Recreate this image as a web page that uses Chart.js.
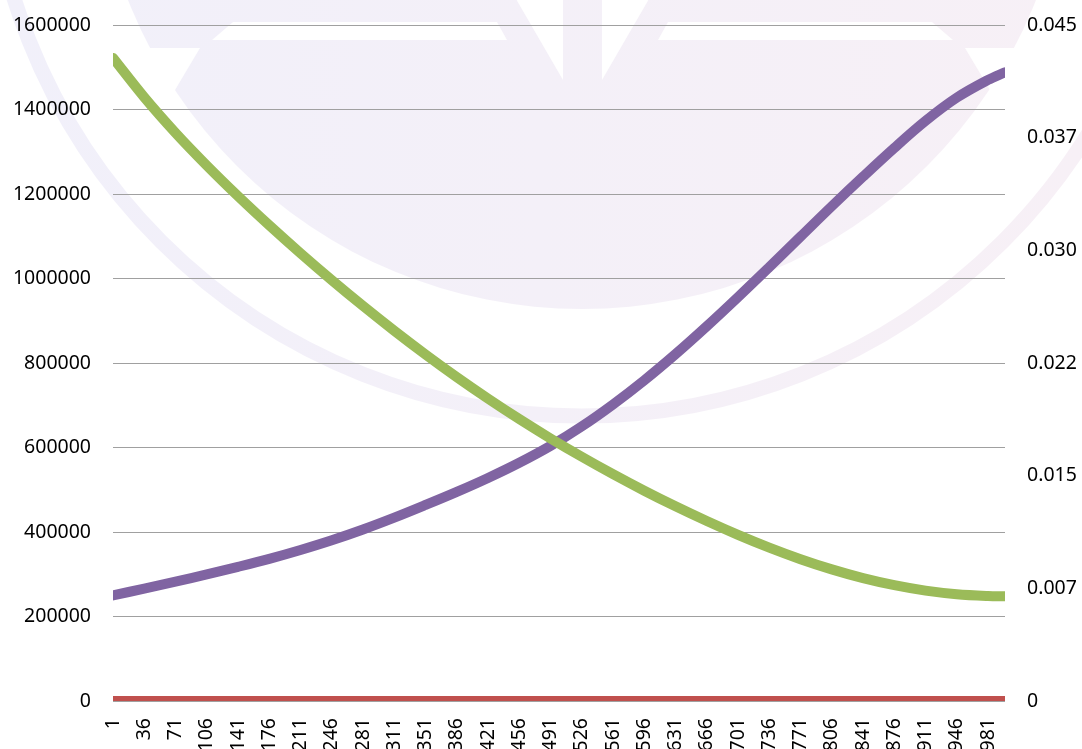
<!DOCTYPE html>
<html>
<head>
<meta charset="utf-8">
<script src="https://cdn.jsdelivr.net/npm/chart.js@4/dist/chart.umd.min.js"></script>
<style>
html,body{margin:0;padding:0;background:#fff;}
#c{display:block;}
</style>
</head>
<body>
<canvas id="c" width="1082" height="749"></canvas>
<script>
// ---- data ----
const xValues = [1,36,71,106,141,176,211,246,281,316,351,386,421,456,491,526,561,596,631,666,701,736,771,806,841,876,911,946,981,1000];
const xTickValues = [1,36,71,106,141,176,211,246,281,316,351,386,421,456,491,526,561,596,631,666,701,736,771,806,841,876,911,946,981];
const xTickLabels = ['1','36','71','106','141','176','211','246','281','311','351','386','421','456','491','526','561','596','631','666','701','736','771','806','841','876','911','946','981'];
const purpleSeries = [250000,266000,282500,299500,317500,336500,357500,380500,406000,434000,464000,495000,528000,564000,604000,650000,702000,759000,821000,887000,956000,1027000,1099000,1171000,1241000,1309000,1373000,1428000,1470000,1488000];
const greenSeries = [0.04281,0.04019,0.03782,0.03565,0.03361,0.03167,0.02981,0.02802,0.02630,0.02465,0.02307,0.02156,0.02013,0.01877,0.01748,0.01626,0.01510,0.01400,0.01296,0.01198,0.01106,0.01021,0.00944,0.00876,0.00818,0.00771,0.00735,0.00711,0.00699,0.00697];
const redSeries = [0,0,0,0,0,0,0,0,0,0,0,0,0,0,0,0,0,0,0,0,0,0,0,0,0,0,0,0,0,0];
const leftTickValues = [0,200000,400000,600000,800000,1000000,1200000,1400000,1600000];
const rightTickValues = [0,0.0075,0.015,0.0225,0.03,0.0375,0.045];
const rightTickLabels = ['0','0.007','0.015','0.022','0.030','0.037','0.045'];

const pts = arr => xValues.map((x, i) => ({x: x, y: arr[i]}));

const FONT = {family: "'Noto Sans', sans-serif", size: 19.5};

const watermark = {
  id: 'watermark',
  beforeDraw(chart) {
    const ctx = chart.ctx;
    ctx.save();
    ctx.fillStyle = '#ffffff';
    ctx.fillRect(0, 0, chart.width, chart.height);
    const g = ctx.createLinearGradient(0, 0, chart.width, 0);
    g.addColorStop(0, '#F1F0FA');
    g.addColorStop(1, '#F7F0F6');
    const cx = 582, cy = -179;
    ctx.strokeStyle = g;
    ctx.lineWidth = 15;
    ctx.beginPath(); ctx.arc(cx, cy, 595, 0, Math.PI * 2); ctx.stroke();
    ctx.fillStyle = g;
    ctx.beginPath(); ctx.arc(cx, cy, 488, 0, Math.PI * 2); ctx.fill();
    ctx.fillStyle = '#ffffff';
    const poly = (p) => { ctx.beginPath(); ctx.moveTo(p[0][0], p[0][1]); for (let i = 1; i < p.length; i++) ctx.lineTo(p[i][0], p[i][1]); ctx.closePath(); ctx.fill(); };
    const mir = (p) => p.map(q => [1165 - q[0], q[1]]);
    const cutL = [[90,48],[200,48],[175,90],[150,132],[90,132]];
    const stripeL = [[233,22],[497,22],[507,40],[212,40]];
    const notchL = [[505,-20],[563,-20],[563,80]];
    [cutL, stripeL, notchL].forEach(p => { poly(p); poly(mir(p)); });
    ctx.restore();
  }
};

const fitY = (w) => (s) => { s.width = w; s.paddingTop = 0; s.paddingBottom = 0; };

new Chart(document.getElementById('c'), {
  type: 'line',
  data: {
    datasets: [
      {data: pts(greenSeries), yAxisID: 'yR', borderColor: '#9BBB59', borderWidth: 10, borderCapStyle: 'round', borderJoinStyle: 'round', pointRadius: 0, tension: 0.35, fill: false},
      {data: pts(purpleSeries), yAxisID: 'yL', borderColor: '#8064A2', borderWidth: 10, borderCapStyle: 'round', borderJoinStyle: 'round', pointRadius: 0, tension: 0.35, fill: false},
      {data: pts(redSeries), yAxisID: 'yL', borderColor: '#C0504D', borderWidth: 10, borderCapStyle: 'round', borderJoinStyle: 'round', pointRadius: 0, tension: 0, fill: false}
    ]
  },
  options: {
    responsive: false,
    animation: false,
    devicePixelRatio: 1,
    layout: {padding: {top: 25, left: 0, right: 0, bottom: 0}},
    plugins: {legend: {display: false}, tooltip: {enabled: false}},
    scales: {
      x: {
        type: 'linear', min: 1, max: 1000,
        afterBuildTicks: (s) => { s.ticks = xTickValues.map(v => ({value: v})); },
        afterFit: (s) => { s.height = 48; s.paddingLeft = 0; s.paddingRight = 0; },
        grid: {display: false, drawTicks: false},
        border: {display: false},
        ticks: {autoSkip: false, maxRotation: 90, minRotation: 90, padding: 17, color: '#000', font: FONT,
          callback: (v, i) => xTickLabels[i]}
      },
      yL: {
        position: 'left', min: 0, max: 1600000,
        afterBuildTicks: (s) => { s.ticks = leftTickValues.map(v => ({value: v})); },
        afterFit: fitY(113),
        grid: {color: '#A0A0A0', lineWidth: 1, drawTicks: false},
        border: {display: false},
        ticks: {padding: 22, color: '#000', font: FONT, callback: (v) => String(v)}
      },
      yR: {
        position: 'right', min: 0, max: 0.045,
        afterBuildTicks: (s) => { s.ticks = rightTickValues.map(v => ({value: v})); },
        afterFit: fitY(77),
        grid: {display: false, drawTicks: false},
        border: {display: false},
        ticks: {padding: 22, color: '#000', font: FONT, callback: (v, i) => rightTickLabels[i]}
      }
    }
  },
  plugins: [watermark]
});
</script>
</body>
</html>
